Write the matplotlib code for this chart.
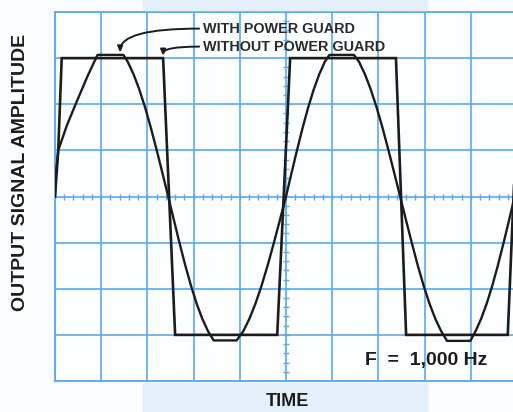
import matplotlib
matplotlib.use("Agg")
import matplotlib.pyplot as plt
import numpy as np
from matplotlib.patches import Rectangle

# waveforms in scope divisions (x: time div from left edge, y: div from centre)
guard_x = [0.00, 0.02, 0.07, 0.26, 0.48, 0.70, 0.92, 1.48,
           1.575, 1.70, 1.825, 1.95, 2.075, 2.20, 2.325, 2.45,
           2.573, 2.696, 2.819, 2.942, 3.065, 3.188, 3.311, 3.434, 3.93,
           4.076, 4.208, 4.34, 4.472, 4.604, 4.736, 4.868, 5.00,
           5.12, 5.24, 5.36, 5.48, 5.60, 5.72, 5.84, 5.94, 6.47,
           6.581, 6.708, 6.835, 6.962, 7.089, 7.216, 7.343, 7.47,
           7.597, 7.724, 7.851, 7.978, 8.105, 8.232, 8.359, 8.486, 8.99,
           9.103, 9.224, 9.345, 9.466, 9.587, 9.708, 9.829, 9.95]
guard_y = [0.00, 0.50, 1.00, 1.55, 2.08, 2.60, 3.07, 3.07,
           2.92, 2.65, 2.32, 1.93, 1.49, 1.01, 0.51, 0.00,
           -0.51, -1.01, -1.49, -1.93, -2.32, -2.65, -2.92, -3.12, -3.12,
           -2.92, -2.65, -2.32, -1.93, -1.49, -1.01, -0.51, 0.00,
           0.51, 1.01, 1.49, 1.93, 2.32, 2.65, 2.92, 3.07, 3.07,
           2.92, 2.65, 2.32, 1.93, 1.49, 1.01, 0.51, 0.00,
           -0.51, -1.01, -1.49, -1.93, -2.32, -2.65, -2.92, -3.13, -3.13,
           -2.92, -2.65, -2.32, -1.93, -1.49, -1.01, -0.51, 0.00]

noguard_x = [0.00, 0.07, 0.145, 2.34, 2.60, 4.81, 5.09, 7.38, 7.60, 9.80, 10.05]
noguard_y = [0.00, 1.00, 3.00, 3.00, -3.00, -3.00, 3.00, 3.00, -3.00, -3.00, 3.00]

label_with = "WITH POWER GUARD"
label_without = "WITHOUT POWER GUARD"
freq_label = "F  =  1,000 Hz"

GRID = "#5aa9f0"
INK = "#1c1c1c"

plt.rcParams["font.family"] = ["Liberation Sans", "DejaVu Sans"]

fig = plt.figure(figsize=(5.13, 4.12), dpi=100)
fig.patch.set_facecolor("#fbfcfd")
# pale blue bands of the printed page behind the scope face
fig.patches.append(Rectangle((143 / 513, 0), 284 / 513, 29 / 412, transform=fig.transFigure,
                             color="#e3f0f9", zorder=0))
fig.patches.append(Rectangle((143 / 513, 402 / 412), 284 / 513, 10 / 412, transform=fig.transFigure,
                             color="#e3f0f9", zorder=0))

ax = fig.add_axes([55 / 513, 31 / 412, 458 / 513, 369 / 412])
ax.set_facecolor("#fdfeff")
ax.set_xlim(0, 458 / 46.2)
ax.set_ylim(-4, 4)
ax.set_xticks(np.arange(0, 10, 1))
ax.set_yticks(np.arange(-4, 5, 1))
ax.tick_params(length=0, labelbottom=False, labelleft=False)
ax.grid(True, color=GRID, linewidth=1.2)
ax.set_axisbelow(True)
for side in ("left", "top", "bottom"):
    ax.spines[side].set_color(GRID)
    ax.spines[side].set_linewidth(1.3)
ax.spines["right"].set_visible(False)

# graticule minor ticks along the centre lines
minor = np.arange(0, 10, 0.2)
ax.plot(minor, np.zeros_like(minor), ls="none", marker="|", ms=4.5, mew=1.0, color=GRID, zorder=1)
vminor = np.arange(-4, 4.01, 0.2)
ax.plot(np.full_like(vminor, 5.0), vminor, ls="none", marker="_", ms=4.5, mew=1.0, color=GRID, zorder=1)

ax.plot(noguard_x, noguard_y, color=INK, lw=1.9, solid_joinstyle="miter", zorder=3)
ax.plot(guard_x, guard_y, color=INK, lw=1.7, solid_joinstyle="round", zorder=3)

# callouts
ax.text(3.2, 3.64, label_with, fontsize=10.4, fontweight="bold", color="#2a2a2a", ha="left", va="center")
ax.text(3.2, 3.25, label_without, fontsize=10.4, fontweight="bold", color="#2a2a2a", ha="left", va="center")
arrow = dict(arrowstyle="-|>,head_length=0.35,head_width=0.15", color=INK, lw=1.4,
             shrinkA=0, shrinkB=0)
ax.annotate("", xy=(1.41, 3.12), xytext=(3.12, 3.64),
            arrowprops=dict(arrow, connectionstyle="angle3,angleA=0,angleB=90"))
ax.annotate("", xy=(2.34, 3.05), xytext=(3.12, 3.25),
            arrowprops=dict(arrow, connectionstyle="angle3,angleA=0,angleB=90"))

ax.text(6.72, -3.55, freq_label, fontsize=14, fontweight="bold", color=INK, ha="left", va="center")

fig.text(287 / 513, 10 / 412, "TIME", fontsize=13, fontweight="bold", color=INK,
         ha="center", va="center")
fig.text(21 / 513, 240 / 412, "OUTPUT SIGNAL AMPLITUDE", fontsize=14, fontweight="bold",
         color=INK, rotation=90, ha="center", va="center")

fig.savefig("out.png", dpi=100, facecolor=fig.get_facecolor())
